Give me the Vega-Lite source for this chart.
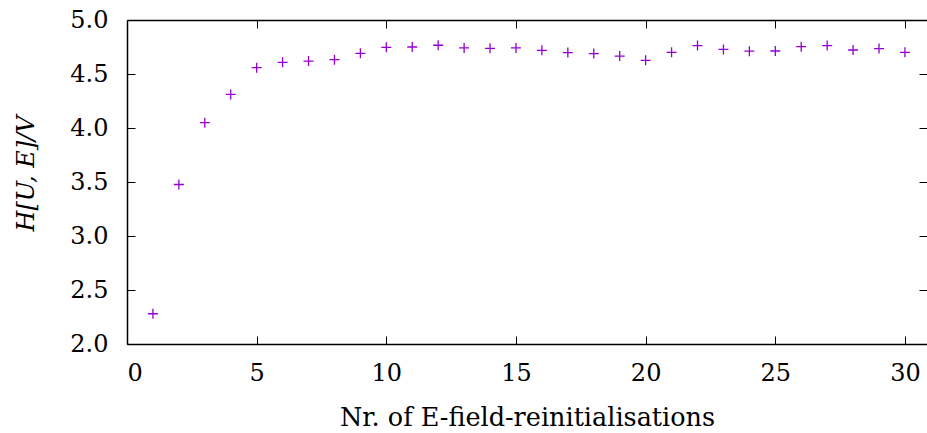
{
  "$schema": "https://vega.github.io/schema/vega-lite/v6.json",
  "autosize": {"type": "none"},
  "padding": {"left": 127, "top": 20, "right": 0, "bottom": 89},
  "width": 800,
  "height": 324,
  "background": "white",
  "config": {
    "view": {"stroke": null},
    "font": "DejaVu Serif",
    "axis": {
      "grid": false,
      "labelFont": "DejaVu Serif",
      "labelFontSize": 24,
      "labelColor": "#000000",
      "titleFont": "DejaVu Serif",
      "titleFontSize": 24,
      "titleFontWeight": "normal",
      "titleColor": "#000000",
      "domainColor": "#000000",
      "domainWidth": 1.5,
      "tickColor": "#000000",
      "tickWidth": 1,
      "tickSize": -8
    }
  },
  "data": {
    "values": [
      {"n": 1, "h": 2.28},
      {"n": 2, "h": 3.477},
      {"n": 3, "h": 4.049},
      {"n": 4, "h": 4.311},
      {"n": 5, "h": 4.559},
      {"n": 6, "h": 4.608},
      {"n": 7, "h": 4.62},
      {"n": 8, "h": 4.633},
      {"n": 9, "h": 4.691},
      {"n": 10, "h": 4.747},
      {"n": 11, "h": 4.75},
      {"n": 12, "h": 4.766},
      {"n": 13, "h": 4.741},
      {"n": 14, "h": 4.738},
      {"n": 15, "h": 4.741},
      {"n": 16, "h": 4.719},
      {"n": 17, "h": 4.698},
      {"n": 18, "h": 4.689},
      {"n": 19, "h": 4.666},
      {"n": 20, "h": 4.627},
      {"n": 21, "h": 4.701},
      {"n": 22, "h": 4.763},
      {"n": 23, "h": 4.728},
      {"n": 24, "h": 4.711},
      {"n": 25, "h": 4.713},
      {"n": 26, "h": 4.753},
      {"n": 27, "h": 4.763},
      {"n": 28, "h": 4.722},
      {"n": 29, "h": 4.735},
      {"n": 30, "h": 4.701}
    ]
  },
  "resolve": {"axis": {"x": "independent", "y": "independent"}},
  "layer": [
    {
      "mark": {
        "type": "point",
        "shape": "M-1,0L1,0M0,-1L0,1",
        "filled": false,
        "size": 100,
        "strokeWidth": 1.3,
        "color": "#9400D3",
        "opacity": 1
      },
      "encoding": {
        "x": {
          "field": "n",
          "type": "quantitative",
          "scale": {"domain": [0, 30.85], "nice": false, "zero": false},
          "axis": {
            "orient": "bottom",
            "values": [0, 5, 10, 15, 20, 25, 30],
            "title": "Nr. of E-field-reinitialisations",
            "labelFont": "DejaVu Serif",
            "labelFontSize": 24,
            "titleFont": "DejaVu Serif",
            "titleFontSize": 25.5,
            "labelPadding": 25,
            "titlePadding": 20
          }
        },
        "y": {
          "field": "h",
          "type": "quantitative",
          "scale": {"domain": [2, 5], "nice": false, "zero": false},
          "axis": {
            "orient": "left",
            "values": [2, 2.5, 3, 3.5, 4, 4.5, 5],
            "format": ".1f",
            "title": "H[U, E]/V",
            "labelFont": "DejaVu Serif",
            "labelFontSize": 24,
            "titleFont": "DejaVu Serif",
            "titleFontSize": 24,
            "titleFontStyle": "italic",
            "titleY": 153,
            "labelPadding": 27,
            "titlePadding": 31
          }
        }
      }
    },
    {
      "mark": {"type": "point", "opacity": 0},
      "encoding": {
        "x": {
          "field": "n",
          "type": "quantitative",
          "scale": {"domain": [0, 30.85], "nice": false, "zero": false},
          "axis": {
            "orient": "top",
            "values": [0, 5, 10, 15, 20, 25, 30],
            "labels": false,
            "title": null
          }
        },
        "y": {
          "field": "h",
          "type": "quantitative",
          "scale": {"domain": [2, 5], "nice": false, "zero": false},
          "axis": {
            "orient": "right",
            "values": [2, 2.5, 3, 3.5, 4, 4.5, 5],
            "labels": false,
            "domain": false,
            "title": null
          }
        }
      }
    }
  ]
}
